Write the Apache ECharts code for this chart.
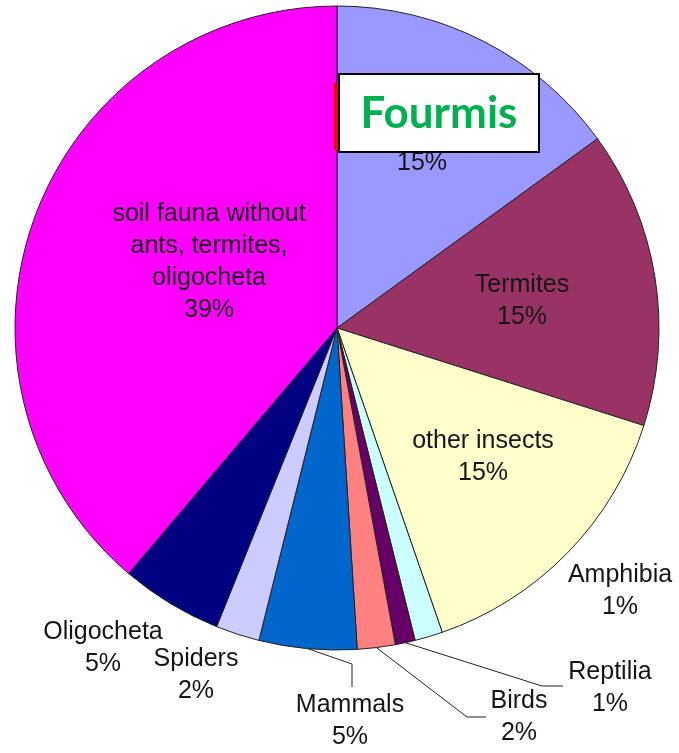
<!DOCTYPE html>
<html>
<head>
<meta charset="utf-8">
<script src="https://cdn.jsdelivr.net/npm/echarts@6/dist/echarts.min.js"></script>
<style>
html,body{margin:0;padding:0;background:#fff;}
#chart{width:679px;height:753px;}
</style>
</head>
<body>
<div id="chart"></div>
<script>
// ---- data ----
const categories = ['Ants', 'Termites', 'other insects', 'Amphibia', 'Reptilia', 'Birds', 'Mammals', 'Spiders', 'Oligocheta', 'soil fauna without\nants, termites,\noligocheta'];
const values = [15.0, 14.9, 14.8, 1.4, 1.0, 1.9, 4.9, 2.2, 5.1, 38.8];

// ---- styles / layout ----
const colors = ['#9999FF', '#993366', '#FFFFCC', '#CCFFFF', '#660066', '#FF8080', '#0066CC', '#CCCCFF', '#000080', '#FF00FF'];
const labelPos = [[422, 147], [522, 301], [483, 457], [620, 591], [610, 688], [519, 717], [350, 721], [196, 675], [103, 648], [209, 262]];
const leaderBends = {4: [[542, 686], [563, 686]], 5: [[467, 717], [486, 717]], 6: [[352, 664], [352, 687]]};

const chart = echarts.init(document.getElementById('chart'), null, {renderer: 'canvas'});
const data = categories.map((c, i) => ({
  name: c,
  value: values[i],
  itemStyle: {color: colors[i]},
  labelLine: {show: !!leaderBends[i]}
}));

chart.setOption({
  animation: false,
  backgroundColor: '#ffffff',
  series: [{
    type: 'pie',
    center: [337, 328],
    radius: 322,
    startAngle: 90,
    clockwise: true,
    avoidLabelOverlap: false,
    data: data,
    itemStyle: {borderColor: '#222222', borderWidth: 1},
    emphasis: {disabled: true},
    label: {
      show: true,
      position: 'outside',
      formatter: p => p.name + '\n' + Math.round(p.value) + '%',
      fontFamily: 'Liberation Sans, Arial, sans-serif',
      fontSize: 25,
      lineHeight: 32,
      color: '#151515',
      align: 'center'
    },
    labelLine: {show: true, length: 10, length2: 10, lineStyle: {color: '#222', width: 1}},
    labelLayout: function (params) {
      const i = params.dataIndex;
      const res = {x: labelPos[i][0], y: labelPos[i][1], align: 'center', verticalAlign: 'middle'};
      if (leaderBends[i] && params.labelLinePoints) {
        res.labelLinePoints = [params.labelLinePoints[0], leaderBends[i][0], leaderBends[i][1]];
      }
      return res;
    }
  }],
  graphic: [
    {type: 'rect', z: 100, shape: {x: 334, y: 83, width: 4, height: 67}, style: {fill: '#ff0000'}},
    {type: 'rect', z: 101, shape: {x: 339, y: 74, width: 200, height: 78}, style: {fill: '#ffffff', stroke: '#000000', lineWidth: 2}},
    {type: 'text', z: 102, x: 439, y: 114, style: {text: 'Fourmis', fill: '#00B050', font: 'bold 44px Lato, "Open Sans", sans-serif', textAlign: 'center', textVerticalAlign: 'middle'}}
  ]
});
</script>
</body>
</html>
